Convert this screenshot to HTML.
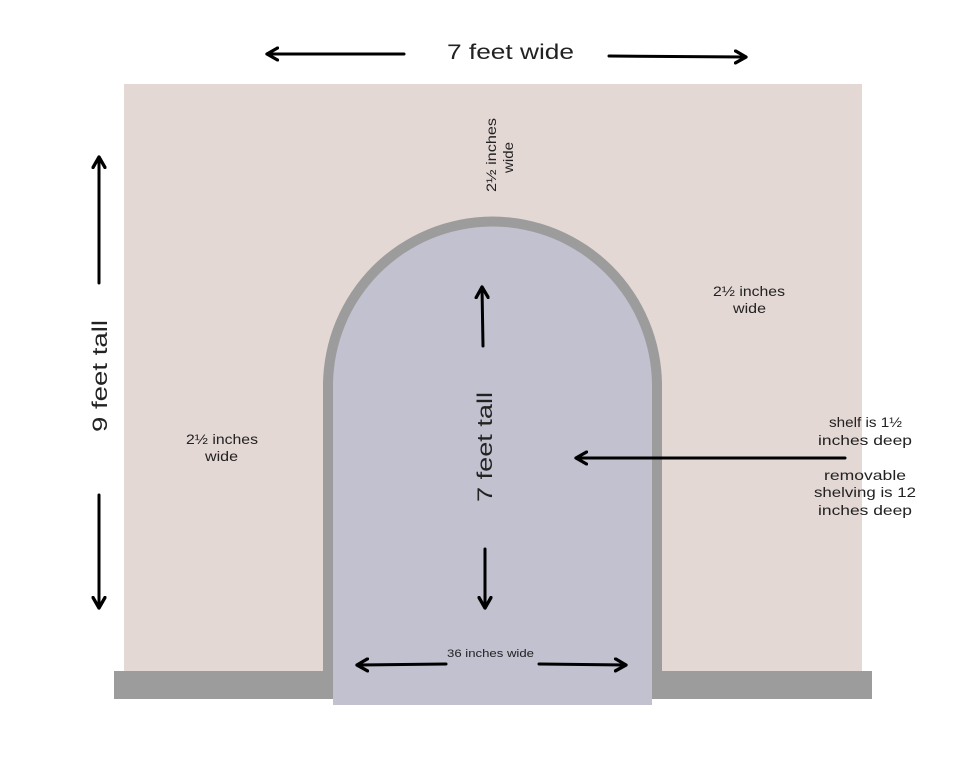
<!DOCTYPE html>
<html><head><meta charset="utf-8"><style>
html,body{margin:0;padding:0;background:#fff;}
svg{display:block;}
text{font-family:"Liberation Sans",sans-serif;fill:#222;}
</style></head><body>
<svg width="964" height="780" viewBox="0 0 964 780" xmlns="http://www.w3.org/2000/svg">
<defs>
<marker id="ah" viewBox="0 0 10 10" refX="8" refY="5" markerWidth="5" markerHeight="5" orient="auto">
<path d="M1,1 L8,5 L1,9" fill="none" stroke="#000" stroke-width="2.2" stroke-linecap="round" stroke-linejoin="round"/>
</marker>
</defs>
<rect x="0" y="0" width="964" height="780" fill="#fff"/>
<rect x="124" y="84" width="738" height="588" fill="#e4d8d4"/>
<rect x="114" y="671" width="758" height="28" fill="#9c9c9c"/>
<path d="M323,699 L323,386 A169.5,169.5 0 0 1 662,386 L662,699 Z" fill="#9c9c9c"/>
<path d="M333,705 L333,386 A159.5,159.5 0 0 1 652,386 L652,705 Z" fill="#c1c1cf"/>
<g stroke="#000" stroke-width="3" fill="none" stroke-linecap="round" marker-end="url(#ah)">
<line x1="404" y1="54" x2="267" y2="54"/>
<line x1="609" y1="56" x2="746" y2="57"/>
<line x1="99" y1="283" x2="99" y2="157"/>
<line x1="99" y1="495" x2="99" y2="608"/>
<line x1="483" y1="346" x2="482" y2="287"/>
<line x1="485" y1="549" x2="485" y2="608"/>
<line x1="845" y1="458" x2="576" y2="458"/>
<line x1="446" y1="664" x2="357" y2="665"/>
<line x1="539" y1="664" x2="626" y2="665"/>
</g>
<text x="447" y="59" font-size="21" textLength="127" lengthAdjust="spacingAndGlyphs">7 feet wide</text>
<text transform="translate(107,432) rotate(-90)" font-size="21" textLength="112" lengthAdjust="spacingAndGlyphs">9 feet tall</text>
<text transform="translate(492,502) rotate(-90)" font-size="21" textLength="110" lengthAdjust="spacingAndGlyphs">7 feet tall</text>
<text transform="translate(496,192) rotate(-90)" font-size="14" textLength="74" lengthAdjust="spacingAndGlyphs">2½ inches</text>
<text transform="translate(513,173) rotate(-90)" font-size="14" textLength="31" lengthAdjust="spacingAndGlyphs">wide</text>
<text x="713" y="296" font-size="14" textLength="72" lengthAdjust="spacingAndGlyphs">2½ inches</text>
<text x="733" y="313" font-size="14" textLength="33" lengthAdjust="spacingAndGlyphs">wide</text>
<text x="186" y="444" font-size="14" textLength="72" lengthAdjust="spacingAndGlyphs">2½ inches</text>
<text x="205" y="461" font-size="14" textLength="33" lengthAdjust="spacingAndGlyphs">wide</text>
<text x="829" y="427" font-size="14" textLength="73" lengthAdjust="spacingAndGlyphs">shelf is 1½</text>
<text x="818" y="445" font-size="14" textLength="94" lengthAdjust="spacingAndGlyphs">inches deep</text>
<text x="824" y="480" font-size="14" textLength="82" lengthAdjust="spacingAndGlyphs">removable</text>
<text x="814" y="497" font-size="14" textLength="102" lengthAdjust="spacingAndGlyphs">shelving is 12</text>
<text x="818" y="515" font-size="14" textLength="94" lengthAdjust="spacingAndGlyphs">inches deep</text>
<text x="447" y="657" font-size="11" textLength="87" lengthAdjust="spacingAndGlyphs">36 inches wide</text>
</svg>
</body></html>
